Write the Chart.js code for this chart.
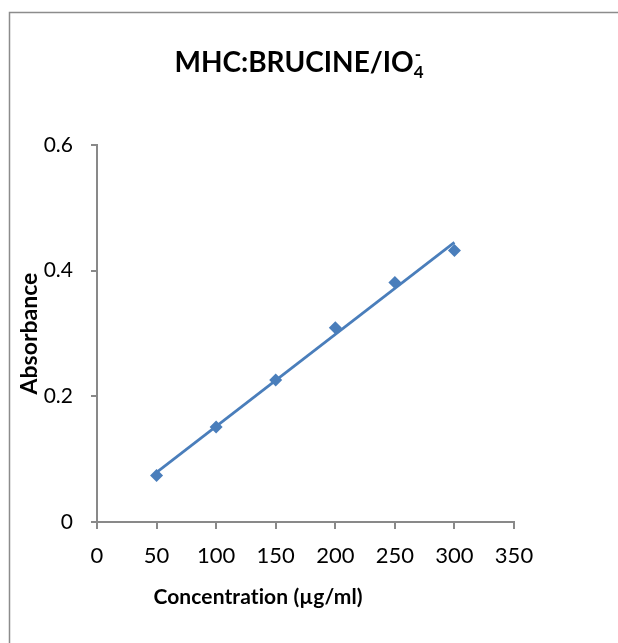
<!DOCTYPE html>
<html>
<head>
<meta charset="utf-8">
<script src="https://cdn.jsdelivr.net/npm/chart.js@4.4.1/dist/chart.umd.min.js"></script>
<style>
body { margin: 0; background: #fff; }
#wrap { width: 618px; height: 643px; }
</style>
</head>
<body>
<div id="wrap"><canvas id="myChart"></canvas></div>
<script>
// data
var concentration = [50, 100, 150, 200, 250, 300];
var absorbance = [0.074, 0.151, 0.226, 0.309, 0.381, 0.432];
var trendX = [50, 300];
var trendY = [0.079, 0.445];
var xTicks = [0, 50, 100, 150, 200, 250, 300, 350];
var yTicks = [0, 0.2, 0.4, 0.6];

var blue = '#4A7EBB';
var axisGrey = '#898989';

var points = concentration.map(function (x, i) { return { x: x, y: absorbance[i] }; });
var trend = trendX.map(function (x, i) { return { x: x, y: trendY[i] }; });

// title with subscript / superscript, x axis title, outer frame
var extras = {
    id: 'extras',
    afterDraw: function (chart) {
        var ctx = chart.ctx;
        ctx.save();
        ctx.strokeStyle = '#8c8c8c';
        ctx.lineWidth = 1.5;
        ctx.beginPath();
        ctx.moveTo(9.5, 700);
        ctx.lineTo(9.5, 12.5);
        ctx.lineTo(700, 12.5);
        ctx.stroke();

        ctx.fillStyle = '#000';
        ctx.textBaseline = 'alphabetic';
        var main = 'MHC:BRUCINE/IO';
        ctx.font = 'bold 28px Lato';
        var wMain = ctx.measureText(main).width;
        ctx.font = 'bold 17px Lato';
        var wSub = ctx.measureText('4').width;
        var x0 = 299 - (wMain + wSub) / 2;
        ctx.font = 'bold 28px Lato';
        ctx.fillText(main, x0, 72);
        ctx.font = 'bold 17px Lato';
        ctx.fillText('4', x0 + wMain, 78);
        ctx.fillText('-', x0 + wMain + 1, 60);

        ctx.font = 'bold 21px Lato';
        ctx.textAlign = 'center';
        if ('letterSpacing' in ctx) ctx.letterSpacing = '0.1px'; // no "ti" ligature
        ctx.fillText('Concentration (\u00b5g/ml)', 258, 604);
        ctx.restore();
    }
};

var ctx = document.getElementById('myChart').getContext('2d');
var myChart = new Chart(ctx, {
    type: 'scatter',
    data: {
        datasets: [{
            label: 'Absorbance',
            data: points,
            pointStyle: 'rectRot',
            pointRadius: 6.5,
            pointHoverRadius: 6.5,
            backgroundColor: blue,
            borderColor: blue,
            borderWidth: 0,
            showLine: false
        }, {
            label: 'Linear',
            data: trend,
            showLine: true,
            pointRadius: 0,
            borderColor: blue,
            borderWidth: 2.75,
            fill: false
        }]
    },
    options: {
        responsive: true,
        maintainAspectRatio: false,
        animation: false,
        layout: { padding: { left: 0, top: 145, right: 104, bottom: 0 } },
        plugins: {
            legend: { display: false },
            tooltip: { enabled: false }
        },
        scales: {
            x: {
                type: 'linear',
                min: 0,
                max: 350,
                afterBuildTicks: function (s) { s.ticks = xTicks.map(function (v) { return { value: v }; }); },
                afterFit: function (s) { s.height = 121; },
                border: { color: axisGrey, width: 2 },
                grid: { drawOnChartArea: false, drawTicks: true, tickLength: 7, color: axisGrey, lineWidth: 2 },
                ticks: { color: '#000', padding: 14, font: { family: 'Lato', size: 22 }, maxRotation: 0 }
            },
            y: {
                type: 'linear',
                min: 0,
                max: 0.6,
                afterBuildTicks: function (s) { s.ticks = yTicks.map(function (v) { return { value: v }; }); },
                afterFit: function (s) { s.width = 97; },
                border: { color: axisGrey, width: 2 },
                grid: { drawOnChartArea: false, drawTicks: true, tickLength: 6, color: axisGrey, lineWidth: 2 },
                ticks: {
                    color: '#000', padding: 18, font: { family: 'Lato', size: 21 },
                    callback: function (v) { return v === 0 ? '0' : v.toFixed(1); }
                },
                title: {
                    display: true, text: 'Absorbance', color: '#000',
                    font: { family: 'Lato', size: 23, weight: 'bold' },
                    padding: { top: 16, bottom: 0 }
                }
            }
        }
    },
    plugins: [extras]
});
</script>
</body>
</html>
